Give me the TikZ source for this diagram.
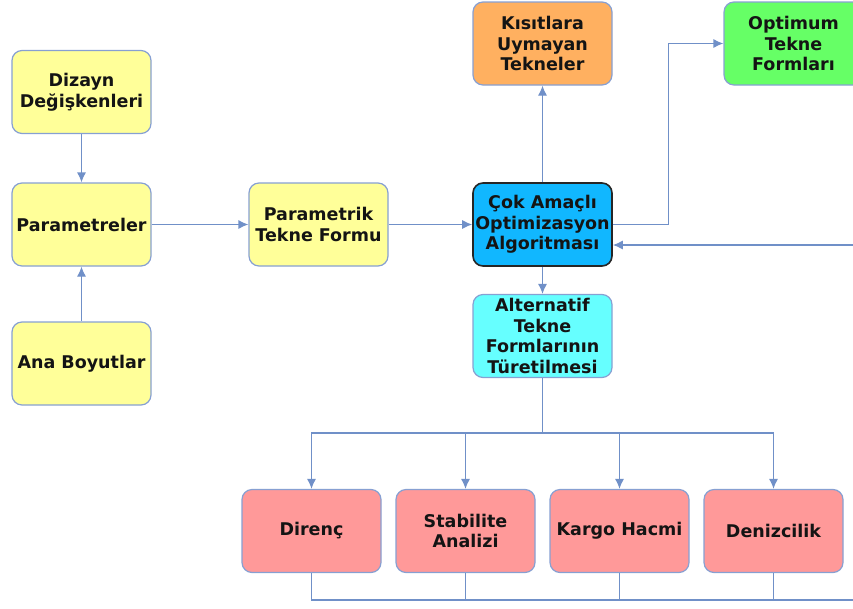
\documentclass[tikz,border=0pt]{standalone}
\usepackage{fontspec}
\setmainfont{DejaVu Sans}
\usetikzlibrary{arrows.meta,positioning}
\definecolor{wire}{RGB}{112,144,200}
\definecolor{boxline}{RGB}{135,160,210}
\definecolor{txt}{RGB}{20,20,20}
\definecolor{ylw}{RGB}{255,255,153}
\definecolor{blu}{RGB}{17,183,255}
\definecolor{org}{RGB}{255,176,96}
\definecolor{grn}{RGB}{102,255,102}
\definecolor{cyn}{RGB}{102,255,255}
\definecolor{pnk}{RGB}{255,153,153}
\begin{document}
\begin{tikzpicture}[x=1pt, y=-1pt, line width=1.2pt,
        every node/.style={rectangle, rounded corners=10pt, draw=boxline, line width=1.2pt,
            minimum width=139pt, minimum height=83pt, inner sep=1pt, align=center,
            text=txt, font=\bfseries\fontsize{17.5}{20.5}\selectfont},
        arrow/.style={draw=wire, -{Latex[length=10pt,width=9pt]}}]
        \useasboundingbox (0,0) rectangle (853,608);
        \clip (0,0) rectangle (853,608);
        % inputs
        \node[fill=ylw] (dizayn) at (81.5,92) {Dizayn\\Değişkenleri};
        \node[fill=ylw] (param) [below of=dizayn, node distance=132.5pt] {Parametreler};
        \node[fill=ylw] (ana) [below of=param, node distance=139pt] {Ana Boyutlar};
        \node[fill=ylw] (form) [right of=param, node distance=237pt] {Parametrik\\Tekne Formu};
        % optimizer and outputs
        \node[fill=blu, draw=black!85, line width=1.6pt] (opti) [right of=form, node distance=224pt] {Çok Amaçlı\\Optimizasyon\\Algoritması};
        \node[fill=org] (kisit) [above of=opti, node distance=181pt] {Kısıtlara\\Uymayan\\Tekneler};
        \node[fill=grn] (optimum) [right of=kisit, node distance=251pt] {Optimum\\Tekne\\Formları};
        \node[fill=cyn] (alt) [below of=opti, node distance=111.5pt] {Alternatif\\Tekne\\Formlarının\\Türetilmesi};
        % analyses
        \node[fill=pnk] (direnc) at (311.5,531) {Direnç};
        \node[fill=pnk] (stab) [right of=direnc, node distance=154pt] {Stabilite\\Analizi};
        \node[fill=pnk] (kargo) [right of=stab, node distance=154pt] {Kargo Hacmi};
        \node[fill=pnk] (deniz) [right of=kargo, node distance=154pt] {Denizcilik};
        \coordinate (bus) at (542.5,433);
        \coordinate (ret) at (870,600);
        \coordinate (back) at (870,245);

        \draw[arrow] (dizayn) -- (param);
        \draw[arrow] (ana) -- (param);
        \draw[arrow] (param) -- (form);
        \draw[arrow] (form) -- (opti);
        \draw[arrow] (opti) -- (kisit);
        \draw[arrow] (opti.east) -- ++(56,0) |- (optimum.west);
        \draw[arrow] (opti) -- (alt);
        \draw[wire] (alt) -- (bus);
        \foreach \n in {direnc,stab,kargo,deniz}
            \draw[arrow] (bus) -| (\n.north);
        \draw[wire] (direnc.south) |- (ret);
        \foreach \n in {stab,kargo,deniz}
            \draw[wire] (\n.south) -- (\n.south |- ret);
        \draw[arrow] (back) -- (back -| opti.east);
    \end{tikzpicture}
\end{document}
